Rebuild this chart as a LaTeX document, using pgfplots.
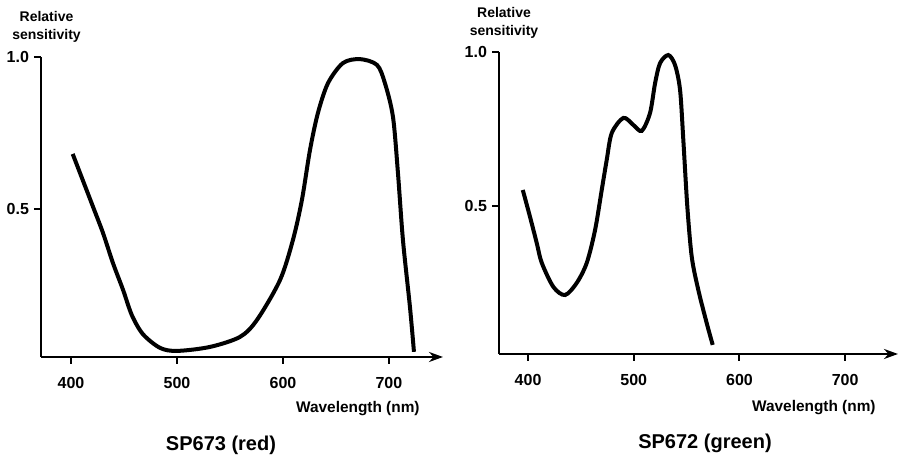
\documentclass[border=0pt]{standalone}
\usepackage{fontspec}
\setmainfont{Liberation Sans}
\usepackage{pgfplots}
\pgfplotsset{compat=1.18}
\usetikzlibrary{arrows.meta}

\begin{document}
\begin{tikzpicture}
% left panel: SP673 (red)
\begin{axis}[scale only axis, at={(0pt,0pt)}, anchor=origin,
  width=201pt, height=150pt,
  xmin=371.7, xmax=751, ymin=0.013, ymax=1.0,
  axis lines=left, tick align=outside,
  xticklabel shift=3pt, yticklabel shift=-1pt,
  major tick length=3.5pt, tick style={black, line width=1pt},
  axis line style={line width=1.3pt},
  x axis line style={-{Stealth[length=7pt,width=5pt]}},
  y axis line style={-},
  xtick distance=100, ytick distance=0.5,
  yticklabel style={/pgf/number format/.cd, fixed, fixed zerofill, precision=1},
  /pgf/number format/assume math mode=true,
  tick label style={font=\fontsize{8}{9}\selectfont\bfseries}]
\addplot[black, line width=2pt, smooth, tension=0.5] coordinates {
  (401.6,0.681)(420.8,0.507)(430.2,0.421)(439.6,0.322)(449.1,0.234)
  (457.5,0.150)(467.9,0.088)(484,0.043)(500,0.033)(531,0.046)
  (559.4,0.079)(575.5,0.135)(597.2,0.266)(609.4,0.398)(617.9,0.530)
  (625.5,0.694)(633,0.816)(642.5,0.914)(656.6,0.980)(672.6,0.993)
  (688.7,0.974)(696.2,0.914)(703.8,0.803)(708.5,0.618)(713.2,0.398)
  (719.8,0.178)(723.6,0.030)};
\end{axis}
% right panel: SP672 (green)
\begin{axis}[scale only axis, at={(229pt,1.5pt)}, anchor=origin,
  width=199.5pt, height=151pt,
  xmin=372.5, xmax=750, ymin=0.0195, ymax=1.0,
  axis lines=left, tick align=outside,
  xticklabel shift=3pt, yticklabel shift=-1pt,
  major tick length=3.5pt, tick style={black, line width=1pt},
  axis line style={line width=1.3pt},
  x axis line style={-{Stealth[length=7pt,width=5pt]}},
  y axis line style={-},
  xtick distance=100, ytick distance=0.5,
  yticklabel style={/pgf/number format/.cd, fixed, fixed zerofill, precision=1},
  /pgf/number format/assume math mode=true,
  tick label style={font=\fontsize{8}{9}\selectfont\bfseries}]
\addplot[black, line width=2pt, smooth, tension=0.5] coordinates {
  (395,0.552)(401.9,0.464)(408.2,0.380)(413,0.315)(424,0.237)
  (435,0.211)(446,0.250)(455.5,0.315)(463.4,0.422)(469.7,0.552)
  (474.4,0.649)(479.2,0.737)(490.2,0.786)(499.6,0.763)(507.6,0.744)
  (515.4,0.802)(520.2,0.899)(524.9,0.964)(532.7,0.990)(539,0.958)
  (543.8,0.877)(546.9,0.714)(550.7,0.497)(554.9,0.334)(561.1,0.227)
  (569,0.120)(574.7,0.049)};
\end{axis}
% labels
\begin{scope}[every node/.style={inner sep=0pt}]
\node[anchor=base, font=\fontsize{7}{8}\selectfont\bfseries] at (2.75pt,167.5pt) {Relative};
\node[anchor=base, font=\fontsize{7}{8}\selectfont\bfseries] at (2.75pt,158.5pt) {sensitivity};
\node[anchor=base, font=\fontsize{7}{8}\selectfont\bfseries] at (231.5pt,169.5pt) {Relative};
\node[anchor=base, font=\fontsize{7}{8}\selectfont\bfseries] at (231.5pt,160.5pt) {sensitivity};
\node[anchor=base east, font=\fontsize{7.7}{9}\selectfont\bfseries] at (189.5pt,-28pt) {Wavelength (nm)};
\node[anchor=base east, font=\fontsize{7.7}{9}\selectfont\bfseries] at (417.5pt,-27.5pt) {Wavelength (nm)};
\node[anchor=base, font=\fontsize{10}{12}\selectfont\bfseries] at (90pt,-47pt) {SP673 (red)};
\node[anchor=base, font=\fontsize{10}{12}\selectfont\bfseries] at (332pt,-46pt) {SP672 (green)};
\end{scope}
\useasboundingbox (-20.5pt,-50.5pt) rectangle (429.5pt,178.5pt);
\end{tikzpicture}
\end{document}
